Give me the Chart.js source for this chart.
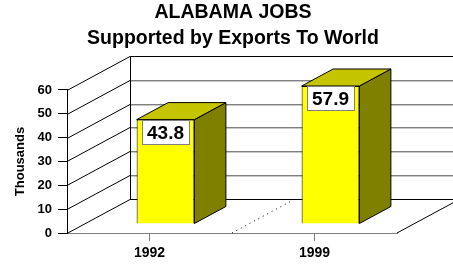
<!DOCTYPE html>
<html><head><meta charset="utf-8">
<script src="https://cdn.jsdelivr.net/npm/chart.js@4/dist/chart.umd.min.js"></script>
<style>html,body{margin:0;padding:0;background:#fff;overflow:hidden}</style>
</head><body>
<canvas id="c" width="453" height="266"></canvas>
<script>
const titleLines = ['ALABAMA JOBS', 'Supported by Exports To World'];
const categories = ['1992', '1999'];
const jobsThousands = [43.8, 57.9];
const yTickValues = [0, 10, 20, 30, 40, 50, 60];
const yAxisTitle = 'Thousands';

const FONT = "'Liberation Sans', Arial, sans-serif";
const DX = 63, DY = 34;

const threeD = {
  id: 'threeD',
  beforeDatasetsDraw(chart) {
    const {ctx, chartArea: a, scales: {x, y}} = chart;
    const W = chart.width;
    ctx.save();
    ctx.lineWidth = 1;
    yTickValues.forEach((v, i) => {
      const py = Math.round(y.getPixelForValue(v)) + 0.5;
      ctx.strokeStyle = '#000';
      ctx.beginPath(); ctx.moveTo(a.left, py); ctx.lineTo(a.left + DX, py - DY); ctx.stroke();
      const edge = (i === 0 || i === yTickValues.length - 1);
      ctx.strokeStyle = edge ? '#000' : '#808080';
      ctx.beginPath(); ctx.moveTo(a.left + DX, py - DY); ctx.lineTo(W, py - DY); ctx.stroke();
      if (!edge) {
        ctx.strokeStyle = '#c8c8c8';
        ctx.beginPath(); ctx.moveTo(a.left + DX, py - DY + 1); ctx.lineTo(W, py - DY + 1); ctx.stroke();
      }
    });
    const yTop = Math.round(y.getPixelForValue(yTickValues[yTickValues.length - 1])) + 0.5 - DY;
    const yBot = Math.round(y.getPixelForValue(yTickValues[0])) + 0.5 - DY;
    ctx.strokeStyle = '#000';
    ctx.beginPath(); ctx.moveTo(Math.round(a.left + DX) + 0.5, yTop); ctx.lineTo(Math.round(a.left + DX) + 0.5, yBot); ctx.stroke();
    ctx.beginPath(); ctx.moveTo(a.right, a.bottom); ctx.lineTo(a.right + DX, a.bottom - DY); ctx.stroke();
    const xb = (x.getPixelForValue(0) + x.getPixelForValue(1)) / 2;
    ctx.setLineDash([1, 4]);
    ctx.beginPath(); ctx.moveTo(xb, a.bottom); ctx.lineTo(xb + DX * 0.92, a.bottom - DY * 0.92); ctx.stroke();
    ctx.restore();
    ctx.save();
    ctx.translate(Math.round(DX * 0.25), -Math.round(DY * 0.25));
  },
  afterDatasetsDraw(chart) {
    const ctx = chart.ctx;
    const meta = chart.getDatasetMeta(0);
    const bx = DX * 0.5, by = DY * 0.5;
    meta.data.forEach((el, i) => {
      const {x, y, base, width} = el.getProps(['x', 'y', 'base', 'width'], true);
      const l = x - width / 2, r = x + width / 2;
      ctx.lineWidth = 1; ctx.strokeStyle = '#000';
      ctx.fillStyle = '#808000';
      ctx.beginPath(); ctx.moveTo(r, y); ctx.lineTo(r + bx, y - by); ctx.lineTo(r + bx, base - by); ctx.lineTo(r, base); ctx.closePath(); ctx.fill(); ctx.stroke();
      ctx.fillStyle = '#c4c400';
      ctx.beginPath(); ctx.moveTo(l, y); ctx.lineTo(l + bx, y - by); ctx.lineTo(r + bx, y - by); ctx.lineTo(r, y); ctx.closePath(); ctx.fill(); ctx.stroke();
      const bw = 47, bh = 24;
      const lx = Math.round(x - bw / 2) + 0.5, ly = Math.round(y) + 0.5;
      ctx.fillStyle = '#fff';
      ctx.fillRect(lx, ly, bw, bh);
      ctx.strokeStyle = '#808080';
      ctx.strokeRect(lx, ly, bw, bh);
      ctx.fillStyle = '#000';
      ctx.font = 'bold 19px ' + FONT;
      ctx.textAlign = 'center';
      ctx.textBaseline = 'middle';
      ctx.fillText(jobsThousands[i].toFixed(1), x, ly + bh / 2 + 1);
    });
    ctx.restore();
  }
};

new Chart(document.getElementById('c'), {
  type: 'bar',
  data: {
    labels: categories,
    datasets: [{
      data: jobsThousands,
      backgroundColor: '#ffff00',
      borderColor: '#000',
      borderWidth: 1,
      categoryPercentage: 0.35,
      barPercentage: 1,
      clip: false
    }]
  },
  options: {
    responsive: false,
    animation: false,
    devicePixelRatio: 1,
    layout: {padding: {left: 13, right: 0, top: 0, bottom: 0}},
    plugins: {
      legend: {display: false},
      tooltip: {enabled: false},
      title: {
        display: true,
        text: titleLines,
        color: '#000',
        font: {family: FONT, size: 19.5, weight: 'bold', lineHeight: 1.333},
        padding: {top: 0, bottom: 38}
      }
    },
    scales: {
      x: {
        grid: {display: true, drawOnChartArea: false, drawTicks: true, tickLength: 8, color: '#808080', offset: false},
        border: {display: true, color: '#808080', width: 1},
        ticks: {color: '#000', font: {family: FONT, size: 14, weight: 'bold'}, padding: 4},
        afterFit(s) { s.height = 33; }
      },
      y: {
        min: yTickValues[0],
        max: yTickValues[yTickValues.length - 1],
        afterBuildTicks(s) { s.ticks = yTickValues.map(v => ({value: v})); },
        grid: {drawOnChartArea: false, drawTicks: true, tickLength: 9, color: '#000'},
        border: {display: true, color: '#000', width: 1},
        ticks: {color: '#000', font: {family: FONT, size: 13, weight: 'bold'}, padding: 6},
        title: {display: true, text: yAxisTitle, color: '#000', font: {family: FONT, size: 13, weight: 'bold'}, padding: {top: 0, bottom: 0}},
        afterFit(s) { s.width = 54; }
      },
      yRight: {
        position: 'right',
        display: true,
        grid: {display: false, drawTicks: false},
        border: {display: false},
        ticks: {display: false},
        afterFit(s) { s.width = 56; }
      }
    }
  },
  plugins: [threeD]
});
</script>
</body></html>
